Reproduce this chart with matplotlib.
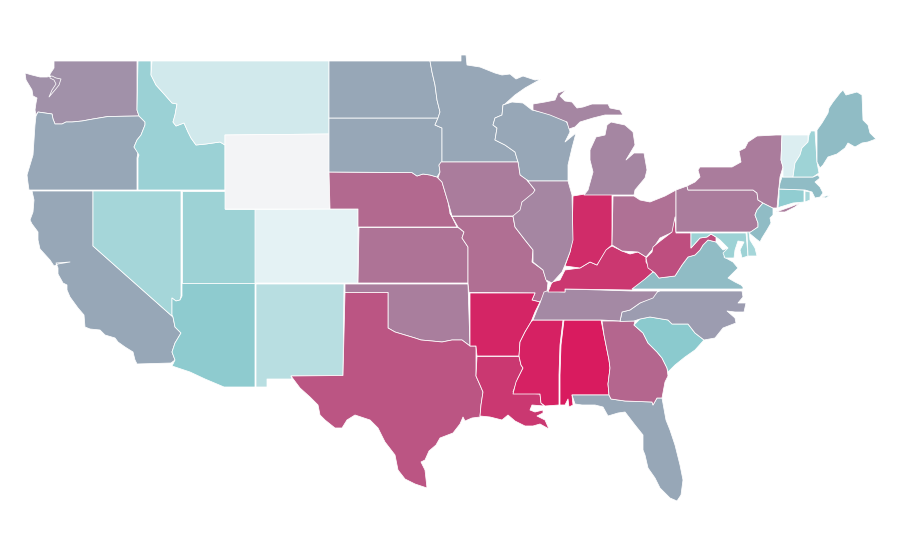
import matplotlib
matplotlib.use("Agg")
import matplotlib.pyplot as plt
from matplotlib.colors import LinearSegmentedColormap
from matplotlib.patches import Polygon

# estimated index per state
state_values = {
    "WA": 0.45, "OR": 0.35, "CA": 0.35, "NV": 0.19, "ID": 0.214, "UT": 0.21, "AZ": 0.243,
    "MT": 0.084, "WY": 0.0, "CO": 0.036, "NM": 0.142, "ND": 0.35, "SD": 0.35, "NE": 0.64,
    "KS": 0.59, "OK": 0.54, "TX": 0.73, "MN": 0.35, "IA": 0.55, "MO": 0.61, "AR": 0.95,
    "LA": 0.86, "WI": 0.35, "IL": 0.50, "IN": 0.92, "MI": 0.50, "OH": 0.60, "KY": 0.87,
    "TN": 0.49, "MS": 0.97, "AL": 1.0, "GA": 0.65, "FL": 0.35, "SC": 0.25, "NC": 0.40,
    "VA": 0.29, "WV": 0.76, "MD": 0.21, "DE": 0.19, "PA": 0.55, "NJ": 0.29, "NY": 0.55,
    "CT": 0.238, "RI": 0.19, "MA": 0.29, "VT": 0.058, "NH": 0.207, "ME": 0.29,
}

ramp_stops = [(0.0, "#F3F4F6"), (0.036, "#E4F2F4"), (0.25, "#8BCACE"), (0.35, "#97A7B7"), (0.73, "#BB5583"), (1.0, "#D91B5F")]

# state outlines, pixel space
state_outlines = {
    "WA": [[(54, 61), (137, 61), (137, 110), (139, 116), (108, 116.5), (93, 119), (82, 121), (72, 122), (66, 122), (62, 124), (55, 124), (53, 119), (52, 114), (45, 113), (38, 112), (36, 115), (35, 110), (36, 103), (37, 98), (33, 96), (32, 90), (29, 85), (26, 80), (25, 73), (32, 75), (40, 77), (47, 77), (52, 76), (56, 78), (61, 79), (59, 85), (55, 90), (49, 97), (52, 90), (56, 84), (54, 80), (50, 78), (50, 74), (54, 68)]],
    "OR": [[(36, 116), (38, 112), (45, 113), (52, 114), (53, 119), (55, 124), (62, 124), (66, 122), (72, 122), (82, 121), (93, 119), (108, 116.5), (139, 116), (145, 122), (145, 125), (141, 135), (137, 140), (134, 147), (138, 152), (137, 158), (137, 190), (29, 190), (28, 183), (27, 175), (30, 165), (33, 155), (34, 140), (35, 125)]],
    "CA": [[(32, 191), (93, 191), (93, 246), (173, 317), (175, 327), (181, 333), (175, 343), (172, 352), (175, 360), (171, 363), (137, 364), (135, 360), (133, 352), (125, 347), (118, 342), (115, 338), (105, 335), (100, 330), (90, 329), (85, 327), (84, 315), (78, 308), (70, 297), (67, 290), (67, 285), (63, 283), (58, 274), (58, 268), (56, 263), (70, 262), (58, 264), (54, 266), (50, 260), (40, 249), (38, 240), (38, 232), (32, 224), (30, 220), (33, 212), (34, 200)]],
    "NV": [[(93, 191), (181, 191), (181, 296), (180, 300), (176, 301), (172, 298), (172, 315), (173, 317), (93, 246)]],
    "UT": [[(182, 191), (225, 191), (225, 209), (255, 209), (255, 283), (182, 283)]],
    "AZ": [[(182, 283.5), (255, 283.5), (255, 387), (224, 387), (205, 379), (190, 372), (172, 366), (175, 360), (172, 352), (175, 343), (181, 333), (175, 327), (173, 317), (172, 315), (172, 298), (176, 301), (180, 300), (182, 296)]],
    "ID": [[(138, 61), (151, 61), (151, 75), (156, 85), (165, 95), (172, 103), (177, 104), (175, 115), (173, 122), (176, 126), (184, 123), (188, 132), (191, 138), (196, 145), (206, 144), (220, 142), (225, 145), (225, 190), (138, 190), (138, 158), (139, 155), (134, 147), (137, 140), (141, 135), (145, 125), (145, 122), (139, 116), (137, 110)]],
    "MT": [[(152, 61), (329, 61), (329, 134), (225, 135), (225, 145), (220, 142), (206, 144), (196, 145), (191, 138), (188, 132), (184, 123), (176, 126), (173, 122), (175, 115), (177, 104), (172, 103), (165, 95), (156, 85), (151, 75)]],
    "WY": [[(225, 135), (329, 134), (329.5, 209), (225, 209)]],
    "CO": [[(255, 209.5), (358, 209), (358, 283), (255, 283)]],
    "NM": [[(256, 284), (344, 284), (343, 375.5), (291, 376), (292, 379), (267, 379), (267, 387), (256, 387)]],
    "OK": [[(345, 284), (468, 284), (470, 346), (462, 340), (452, 340), (442, 342), (432, 341), (421, 340), (415, 338), (405, 335), (395, 332), (388, 328), (388, 292.5), (345, 292.5)]],
    "TX": [[(345, 292.5), (388, 292.5), (388, 328), (395, 332), (405, 335), (415, 338), (421, 340), (432, 341), (442, 342), (452, 340), (462, 340), (470, 346), (476, 346), (476, 376), (480, 385), (483, 392), (481, 405), (480, 417), (472, 418), (465, 421), (463, 417), (460, 424), (453, 433), (440, 438), (436, 445), (429, 451), (425, 460), (421, 462), (425, 470), (427, 488), (415, 484), (405, 479), (398, 470), (395, 455), (385, 442), (378, 428), (370, 420), (355, 415), (347, 420), (342, 428), (335, 428), (325, 420), (320, 415), (318, 405), (310, 397), (300, 388), (291, 376), (343, 375.5)]],
    "KS": [[(359, 227.5), (458, 227.5), (464, 232), (462, 238), (468, 247), (468, 283), (358, 283)]],
    "NE": [[(329, 172), (412, 172.6), (417, 176), (423, 174), (430, 175), (437, 177), (442, 182), (445, 192), (448, 202), (450, 213), (457, 227), (358, 227), (358, 209), (330, 209)]],
    "SD": [[(329, 118), (438, 118), (435, 125), (442, 128), (442, 162), (439, 165), (440, 172), (437, 177), (430, 175), (423, 174), (417, 176), (412, 172.6), (329, 172)]],
    "ND": [[(329, 61), (430, 61), (432, 72), (435, 85), (437, 100), (440, 112), (438, 118), (329, 118)]],
    "MN": [[(430, 61), (461, 61), (461, 55), (466, 55), (467, 65), (480, 67), (495, 73), (502, 75), (510, 74), (516, 79), (523, 76), (535, 80), (541, 79), (525, 88), (515, 95), (505, 104), (503, 105), (502, 115), (495, 118), (493, 125), (497, 128), (495, 140), (505, 145), (515, 152), (518, 162), (442, 162), (442, 128), (435, 125), (438, 118), (440, 112), (437, 100), (435, 85), (432, 72)]],
    "WI": [[(503, 105), (512, 102), (523, 103), (532, 110), (550, 114), (565, 119), (569, 127), (570, 132), (565, 142), (576, 133), (572, 148), (568, 165), (568, 181), (528, 181), (520, 175), (518, 162), (515, 152), (505, 145), (495, 140), (497, 128), (493, 125), (495, 118), (502, 115)]],
    "IA": [[(441, 162), (518, 162), (520, 175), (527, 180), (535, 190), (532, 197), (522, 202), (522, 212), (516, 217), (513, 216), (452, 216), (448, 202), (445, 192), (442, 182), (438, 178), (440, 172), (439, 165)]],
    "MO": [[(452, 216.5), (513, 216.5), (515, 227), (525, 240), (533, 250), (532, 262), (543, 270), (547, 282), (548, 282), (547, 292), (540, 302), (532, 300), (535, 293), (469, 292.5), (468, 283), (468, 247), (462, 238), (464, 232), (458, 227), (450, 213)]],
    "AR": [[(470, 293), (535, 293), (532, 300), (540, 302), (535, 312), (531, 322), (525, 332), (520, 342), (519, 356), (477, 356), (476, 346), (470, 346)]],
    "LA": [[(477, 356.5), (519, 356.5), (521, 365), (523, 368), (518, 378), (513, 392), (540, 394), (541, 403), (544, 406), (532, 405), (530, 410), (535, 412), (543, 410), (543, 413), (537, 416), (545, 420), (549, 429), (540, 424), (533, 426), (525, 426), (515, 421), (508, 415), (502, 420), (490, 417), (480, 416), (481, 405), (483, 392), (480, 385), (476, 376)]],
    "MS": [[(533, 320), (563, 320), (560, 345), (559, 375), (559, 405), (545, 406), (541, 403), (540, 394), (513, 394), (516, 382), (523, 368), (521, 365), (519, 356), (520, 342), (525, 332), (531, 322)]],
    "AL": [[(564, 320), (601, 320), (604, 335), (609, 360), (610, 368), (608, 384), (609, 395), (572, 395), (573, 405), (569, 407), (568, 399), (565, 405), (560, 405), (560, 375), (561, 345)]],
    "FL": [[(572, 395), (609, 395), (611, 399), (625, 401), (652, 402), (653, 405), (657, 398), (662, 398), (666, 420), (670, 430), (675, 445), (680, 465), (683, 480), (681, 495), (677, 501), (670, 498), (660, 488), (655, 478), (648, 468), (645, 455), (643, 450), (643, 435), (635, 425), (625, 412), (618, 413), (608, 416), (603, 407), (595, 405), (582, 405), (575, 404)]],
    "GA": [[(602, 321), (635, 321), (634, 325), (643, 333), (648, 343), (657, 352), (662, 358), (667, 368), (668, 376), (665, 382), (662, 398), (657, 398), (653, 405), (652, 402), (625, 401), (611, 399), (609, 395), (608, 384), (610, 368), (609, 360), (604, 335)]],
    "SC": [[(634, 325), (640, 319), (650, 317), (668, 320), (672, 324), (688, 324), (695, 333), (704, 340), (695, 350), (685, 357), (675, 365), (668, 372), (667, 368), (662, 358), (657, 352), (648, 343), (643, 333)]],
    "NC": [[(620, 321.5), (622, 312), (630, 310), (640, 303), (650, 298), (657, 292), (660, 291), (742, 291), (743, 297), (738, 303), (746, 303), (744, 312), (735, 312), (727, 311), (735, 318), (736, 323), (723, 328), (715, 338), (704, 340), (695, 333), (688, 324), (672, 324), (668, 320), (650, 317), (640, 319), (634, 321)]],
    "TN": [[(533, 320), (537, 310), (540, 303), (544, 292), (547, 291), (565, 292), (565, 289), (600, 290), (632, 291), (658, 291), (653, 298), (640, 303), (630, 310), (622, 312), (620, 321), (601, 320)]],
    "KY": [[(548, 292), (552, 282), (560, 280), (565, 270), (580, 268), (590, 262), (597, 265), (605, 250), (612, 246), (622, 251), (630, 254), (638, 252), (646, 257), (646, 262), (653, 272), (645, 280), (632, 290), (565, 289), (565, 292)]],
    "IN": [[(573, 196), (585, 194), (612, 194), (612, 245), (606, 250), (597, 265), (590, 262), (580, 268), (565, 266), (570, 252), (572, 240)]],
    "IL": [[(528, 181), (568, 181), (572, 195), (573, 240), (570, 252), (565, 265), (562, 272), (552, 283), (546, 280), (543, 270), (533, 262), (533, 250), (525, 240), (515, 227), (513, 216), (520, 210), (522, 202), (533, 193), (535, 190), (527, 180)]],
    "MI": [
        [(584, 195), (588, 190), (593, 172), (590, 160), (590, 150), (596, 137), (605, 135), (607, 125), (611, 122), (625, 125), (633, 132), (635, 145), (626, 160), (634, 153), (644, 153), (647, 170), (645, 178), (635, 190), (634, 195), (614, 195)],
        [(533, 104), (545, 102), (555, 100), (558, 93), (566, 90), (560, 96), (565, 101), (572, 102), (577, 108), (583, 107), (592, 104), (608, 104), (610, 108), (620, 110), (623, 115), (615, 115), (605, 115), (593, 118), (580, 122), (575, 127), (569, 129), (567, 122), (550, 115), (533, 110)],
    ],
    "OH": [[(613, 196), (634, 196), (640, 200), (650, 202), (665, 196), (676, 190), (676, 216), (673, 232), (660, 238), (652, 250), (646, 257), (638, 252), (622, 251), (612, 245)]],
    "VA": [[(632, 289), (645, 279), (653, 272), (655, 273), (659, 278), (667, 277), (675, 276), (682, 265), (688, 257), (695, 255), (700, 250), (703, 245), (708, 240), (716, 242), (723, 250), (728, 248), (724, 257), (733, 262), (738, 268), (728, 278), (735, 282), (741, 285), (743, 287), (743, 289)]],
    "WV": [[(675, 217), (676, 233), (691, 233), (691, 248), (700, 238), (707, 237), (711, 234), (716, 237), (716, 242), (708, 240), (703, 245), (700, 250), (695, 255), (688, 257), (682, 265), (675, 276), (667, 277), (659, 278), (655, 273), (648, 268), (646, 258), (652, 252), (653, 247), (659, 242), (672, 232)]],
    "MD": [[(691, 233), (746, 233), (748, 256), (742, 258), (740, 250), (744, 242), (738, 241), (735, 250), (734, 258), (725, 258), (723, 253), (728, 248), (720, 240), (716, 237), (711, 234), (707, 237), (700, 238), (691, 248)]],
    "DE": [[(747, 232), (749, 231), (750, 240), (755, 248), (757, 256), (748, 256)]],
    "PA": [[(676, 190), (687, 186), (688, 190), (753, 190), (757, 193), (758, 200), (763, 203), (757, 210), (755, 215), (758, 223), (758, 227), (751, 232), (676, 232)]],
    "NJ": [[(763, 203), (773, 208), (773, 215), (770, 218), (771, 223), (767, 230), (762, 238), (760, 242), (755, 238), (749, 233), (758, 227), (758, 223), (755, 215), (757, 210)]],
    "NY": [
        [(687, 186), (688, 190), (753, 190), (757, 193), (758, 200), (763, 203), (773, 208), (777, 208), (778, 197), (780, 177), (783, 167), (781, 160), (782, 135), (776, 135), (757, 136), (748, 142), (745, 148), (739, 151), (741, 162), (732, 167), (718, 167), (700, 167), (698, 170), (700, 177), (695, 182)],
        [(776, 212), (790, 207), (800, 203), (795, 207), (785, 212)],
    ],
    "CT": [[(779, 189), (804, 190), (804, 202), (793, 203), (780, 207), (778, 208), (779, 197)]],
    "RI": [[(805, 191), (810, 192), (810, 200), (805, 202)]],
    "MA": [
        [(782, 177), (793, 177), (813, 177), (818, 175), (820, 178), (815, 182), (820, 187), (823, 193), (820, 197), (815, 198), (812, 192), (805, 190), (779, 189), (780, 183)],
        [(822, 197), (830, 195), (826, 198)],
    ],
    "VT": [[(782, 135), (808, 135), (808, 142), (802, 148), (800, 155), (795, 163), (793, 177), (783, 177), (783, 167), (781, 160)]],
    "NH": [[(811, 131), (815, 131), (817, 162), (819, 173), (813, 177), (793, 177), (795, 163), (800, 155), (802, 148), (808, 142), (809, 135)]],
    "ME": [[(817, 130), (822, 123), (828, 113), (829, 108), (833, 102), (840, 93), (843, 90), (846, 95), (857, 92), (862, 95), (863, 120), (868, 125), (870, 133), (876, 139), (868, 142), (862, 143), (855, 147), (848, 143), (845, 148), (837, 154), (828, 157), (823, 165), (820, 168), (817, 162)]],
}

cmap = LinearSegmentedColormap.from_list("index_ramp", ramp_stops)

fig, ax = plt.subplots(figsize=(9, 5.6), dpi=100)
fig.subplots_adjust(left=0, right=1, top=1, bottom=0)

for state, rings in state_outlines.items():
    color = cmap(state_values[state])
    for ring in rings:
        ax.add_patch(Polygon(ring, closed=True, facecolor=color, edgecolor="white", linewidth=0.55, joinstyle="round"))

ax.set_xlim(0, 900)
ax.set_ylim(560, 0)
ax.axis("off")

plt.savefig("out.png", dpi=100, facecolor="white")
plt.close()
